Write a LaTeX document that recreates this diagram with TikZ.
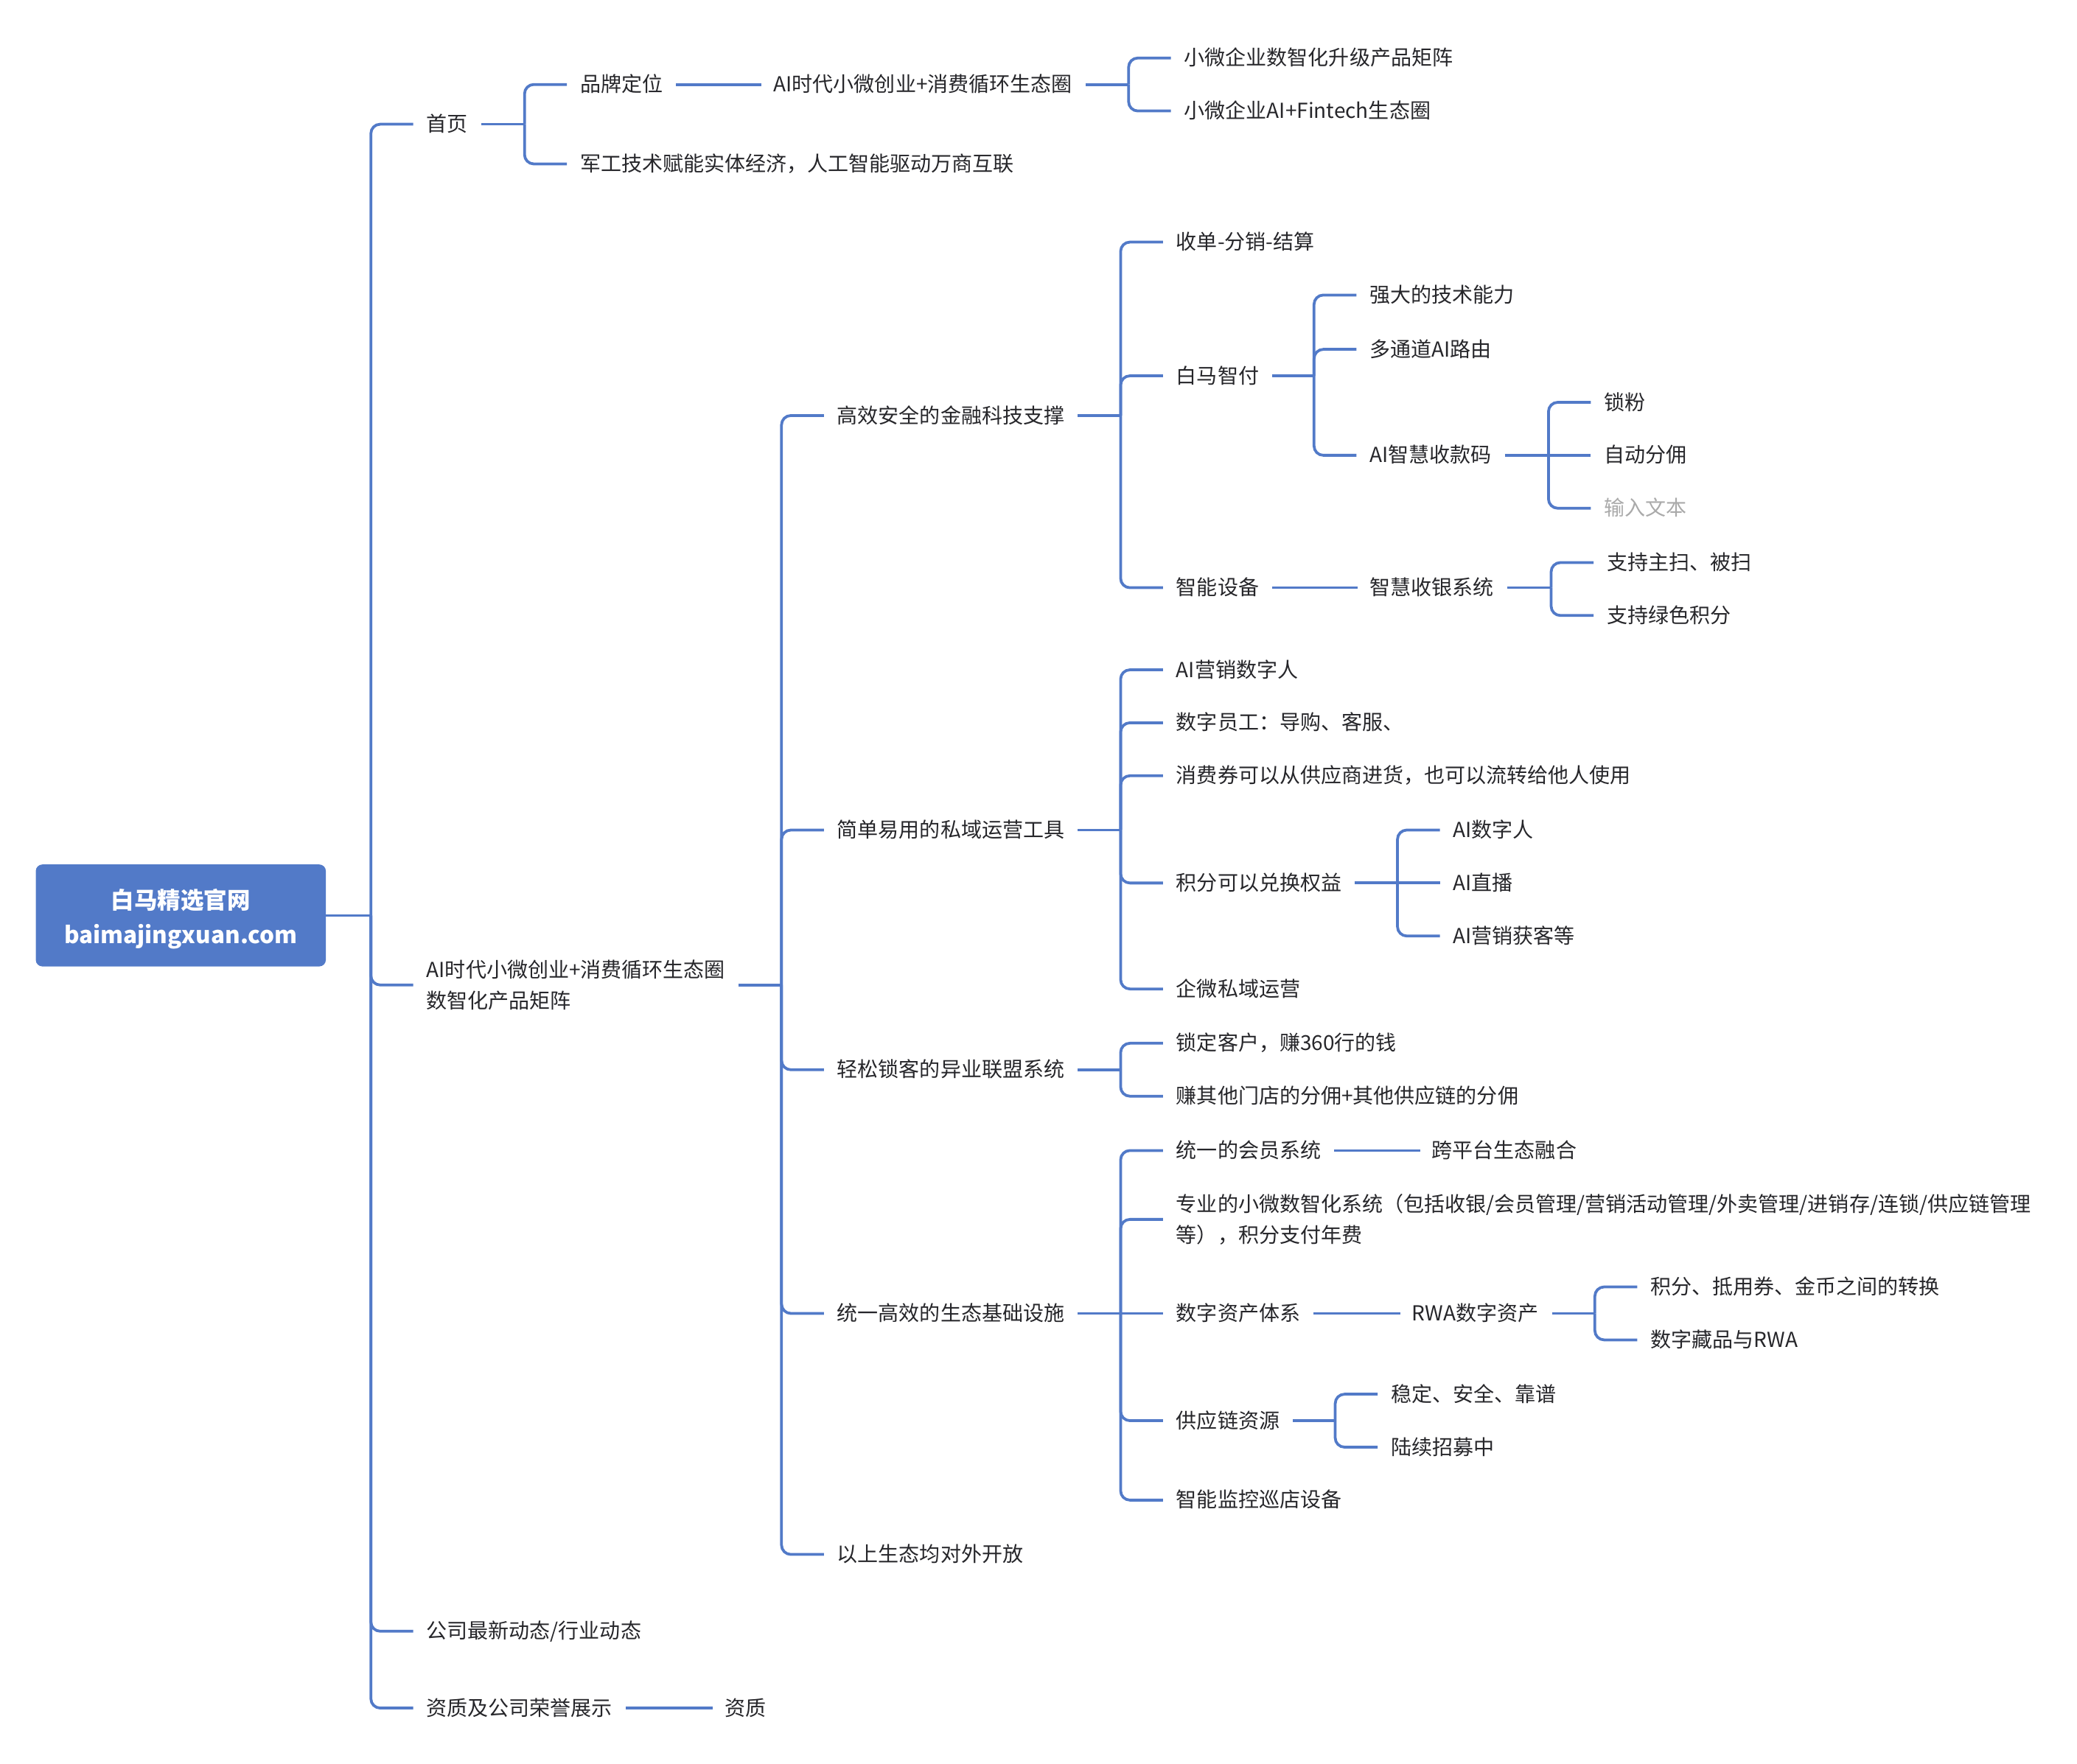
\documentclass[tikz,border=0pt]{standalone}
\usepackage{fontspec}
\setmainfont{Noto Sans CJK SC}
\definecolor{ln}{RGB}{82,122,200}
\definecolor{ink}{RGB}{38,38,42}
\definecolor{hint}{RGB}{170,170,170}
\tikzset{
  txt/.style={anchor=west, inner sep=0pt, outer sep=0pt, text=ink,
    font=\fontsize{15.6}{23}\selectfont, text height=13.4pt, text depth=2.2pt},
  txtm/.style={anchor=west, inner sep=0pt, outer sep=0pt, text=ink, align=left,
    font=\fontsize{15.6}{23}\selectfont},
  br/.style={draw=ln, line width=2.1pt, rounded corners=7pt},
  rootbox/.style={fill=ln, rounded corners=5pt, inner sep=0pt},
  roottext/.style={text=white, align=center, inner sep=0pt,
    font=\bfseries\fontsize{17.5}{26}\selectfont}
}
\newcommand\kid[3]{\draw[br] (#1 |- #2.center) |- ([xshift=-10pt]#3.west);}
\newcommand\stub[2]{\draw[br] ([xshift=10pt]#1.east) -- (#2 |- #1.east);}
\newcommand\link[2]{\draw[br] ([xshift=10pt]#1.east) -- ([xshift=-9pt]#2.west);}
\begin{document}
\begin{tikzpicture}[x=1pt,y=-1pt]
\useasboundingbox (0,-0.8) rectangle (1568,1331.2);
% root
\node[rootbox, minimum width=219pt, minimum height=77pt] (root) at (136.5,690.5) {};
\node[roottext] (rootlabel) at (136.5,693) {白马精选官网\\baimajingxuan.com};
% spines
\coordinate (sR) at (280,0);
\coordinate (sA) at (396,0);
\coordinate (sB) at (852,0);
\coordinate (sC) at (590,0);
\coordinate (sD) at (846,0);
\coordinate (sE) at (992,0);
\coordinate (sF) at (1169,0);
\coordinate (sG) at (1171,0);
\coordinate (sH) at (1055,0);
\coordinate (sI) at (1204,0);
\coordinate (sJ) at (1008,0);
% level 1
\node[txt] (n1) at (322,93) {首页};
\node[txtm] (n2) at (322,743) {AI时代小微创业+消费循环生态圈\\数智化产品矩阵};
\node[txt] (n3) at (322,1231) {公司最新动态/行业动态};
\node[txt] (n4) at (322,1289) {资质及公司荣誉展示};
\node[txt] (n4a) at (547,1289) {资质};
% 首页 subtree
\node[txt] (n1a) at (438,63) {品牌定位};
\node[txt] (n1b) at (438,123) {军工技术赋能实体经济，人工智能驱动万商互联};
\node[txt] (n1c) at (584,63) {AI时代小微创业+消费循环生态圈};
\node[txt] (n1d) at (894,43) {小微企业数智化升级产品矩阵};
\node[txt] (n1e) at (894,83) {小微企业AI+Fintech生态圈};
% level 2 under n2
\node[txt] (m1) at (632,313) {高效安全的金融科技支撑};
\node[txt] (m2) at (632,626) {简单易用的私域运营工具};
\node[txt] (m3) at (632,807) {轻松锁客的异业联盟系统};
\node[txt] (m4) at (632,991) {统一高效的生态基础设施};
\node[txt] (m5) at (632,1173) {以上生态均对外开放};
% m1 subtree
\node[txt] (a1) at (888,182) {收单-分销-结算};
\node[txt] (a2) at (888,283) {白马智付};
\node[txt] (a3) at (888,443) {智能设备};
\node[txt] (a21) at (1034,222) {强大的技术能力};
\node[txt] (a22) at (1034,263) {多通道AI路由};
\node[txt] (a23) at (1034,343) {AI智慧收款码};
\node[txt] (a231) at (1211,303) {锁粉};
\node[txt] (a232) at (1211,343) {自动分佣};
\node[txt, text=hint] (a233) at (1211,383) {输入文本};
\node[txt] (a31) at (1034,443) {智慧收银系统};
\node[txt] (a311) at (1213,424) {支持主扫、被扫};
\node[txt] (a312) at (1213,464) {支持绿色积分};
% m2 subtree
\node[txt] (b1) at (888,505) {AI营销数字人};
\node[txt] (b2) at (888,545) {数字员工：导购、客服、};
\node[txt] (b3) at (888,585) {消费券可以从供应商进货，也可以流转给他人使用};
\node[txt] (b4) at (888,666) {积分可以兑换权益};
\node[txt] (b5) at (888,746) {企微私域运营};
\node[txt] (b41) at (1097,626) {AI数字人};
\node[txt] (b42) at (1097,666) {AI直播};
\node[txt] (b43) at (1097,706) {AI营销获客等};
% m3 subtree
\node[txt] (c1) at (888,787) {锁定客户，赚360行的钱};
\node[txt] (c2) at (888,827) {赚其他门店的分佣+其他供应链的分佣};
% m4 subtree
\node[txt] (d1) at (888,868) {统一的会员系统};
\node[txt] (d11) at (1081,868) {跨平台生态融合};
\node[txtm] (d2) at (888,920) {专业的小微数智化系统（包括收银/会员管理/营销活动管理/外卖管理/进销存/连锁/供应链管理\\等），积分支付年费};
\node[txt] (d3) at (888,991) {数字资产体系};
\node[txt] (d31) at (1066,991) {RWA数字资产};
\node[txt] (d311) at (1246,971) {积分、抵用券、金币之间的转换};
\node[txt] (d312) at (1246,1011) {数字藏品与RWA};
\node[txt] (d4) at (888,1072) {供应链资源};
\node[txt] (d41) at (1050,1052) {稳定、安全、靠谱};
\node[txt] (d42) at (1050,1092) {陆续招募中};
\node[txt] (d5) at (888,1132) {智能监控巡店设备};
% connectors: root
\draw[br] (root.east) -- (sR |- root.east);
\draw[br] (sR |- root.east) |- ([xshift=-10pt]n1.west);
\draw[br] (sR |- root.east) |- ([xshift=-10pt]n2.west);
\draw[br] (sR |- root.east) |- ([xshift=-10pt]n3.west);
\draw[br] (sR |- root.east) |- ([xshift=-10pt]n4.west);
\link{n4}{n4a}
% 首页
\stub{n1}{sA}
\kid{sA}{n1}{n1a}
\kid{sA}{n1}{n1b}
\link{n1a}{n1c}
\stub{n1c}{sB}
\kid{sB}{n1c}{n1d}
\kid{sB}{n1c}{n1e}
% n2
\stub{n2}{sC}
\kid{sC}{n2}{m1}
\kid{sC}{n2}{m2}
\kid{sC}{n2}{m3}
\kid{sC}{n2}{m4}
\kid{sC}{n2}{m5}
% m1
\stub{m1}{sD}
\kid{sD}{m1}{a1}
\kid{sD}{m1}{a2}
\kid{sD}{m1}{a3}
\stub{a2}{sE}
\kid{sE}{a2}{a21}
\kid{sE}{a2}{a22}
\kid{sE}{a2}{a23}
\stub{a23}{sF}
\kid{sF}{a23}{a231}
\draw[br] (sF |- a23.center) -- ([xshift=-10pt]a232.west);
\kid{sF}{a23}{a233}
\link{a3}{a31}
\stub{a31}{sG}
\kid{sG}{a31}{a311}
\kid{sG}{a31}{a312}
% m2
\stub{m2}{sD}
\kid{sD}{m2}{b1}
\kid{sD}{m2}{b2}
\kid{sD}{m2}{b3}
\kid{sD}{m2}{b4}
\kid{sD}{m2}{b5}
\stub{b4}{sH}
\kid{sH}{b4}{b41}
\draw[br] (sH |- b4.center) -- ([xshift=-10pt]b42.west);
\kid{sH}{b4}{b43}
% m3
\stub{m3}{sD}
\kid{sD}{m3}{c1}
\kid{sD}{m3}{c2}
% m4
\stub{m4}{sD}
\kid{sD}{m4}{d1}
\kid{sD}{m4}{d2}
\draw[br] (sD |- m4.center) -- ([xshift=-10pt]d3.west);
\kid{sD}{m4}{d4}
\kid{sD}{m4}{d5}
\link{d1}{d11}
\link{d3}{d31}
\stub{d31}{sI}
\kid{sI}{d31}{d311}
\kid{sI}{d31}{d312}
\stub{d4}{sJ}
\kid{sJ}{d4}{d41}
\kid{sJ}{d4}{d42}
\end{tikzpicture}
\end{document}
